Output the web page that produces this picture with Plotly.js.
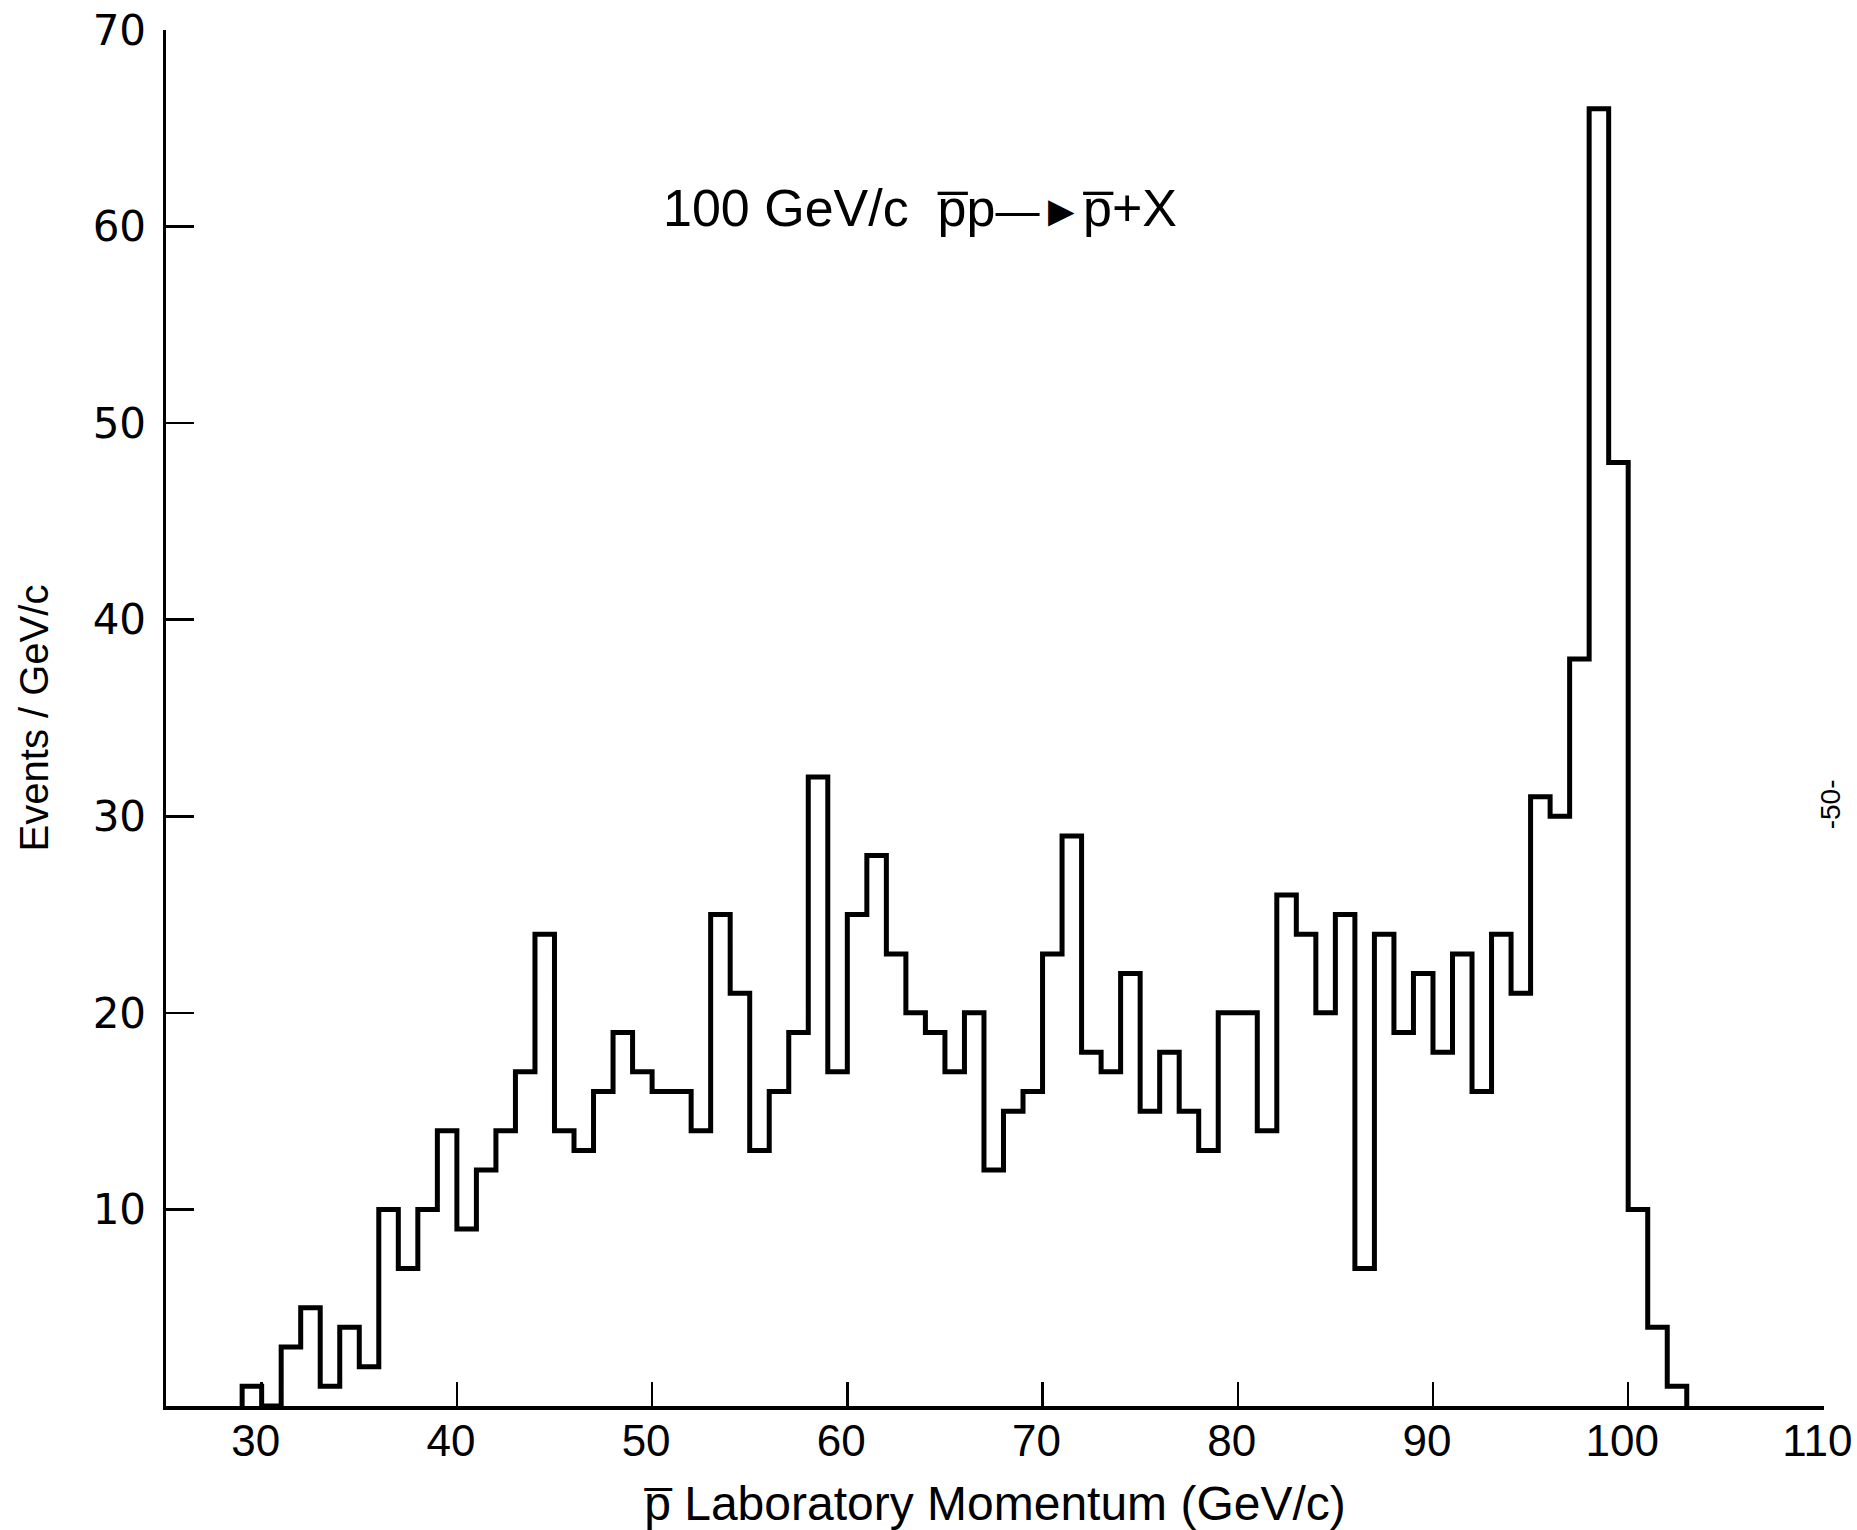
<!DOCTYPE html>
<html>
<head>
<meta charset="utf-8">
<script src="https://cdn.plot.ly/plotly-3.0.1.min.js"></script>
<style>
  html, body { margin: 0; padding: 0; background: #ffffff; }
  #chart { width: 1857px; height: 1530px; }
</style>
</head>
<body>
<div id="chart"></div>
<script>
// ---- Data ----
// Lower edge of each momentum bin (GeV/c); bins are 1 GeV/c wide
const binLowEdges = [29, 30, 31, 32, 33, 34, 35, 36, 37, 38, 39, 40, 41, 42, 43, 44, 45, 46, 47, 48,
  49, 50, 51, 52, 53, 54, 55, 56, 57, 58, 59, 60, 61, 62, 63, 64, 65, 66, 67, 68,
  69, 70, 71, 72, 73, 74, 75, 76, 77, 78, 79, 80, 81, 82, 83, 84, 85, 86, 87, 88,
  89, 90, 91, 92, 93, 94, 95, 96, 97, 98, 99, 100, 101, 102];
const binWidth = 1;
// Events / GeV/c in each bin
const eventCounts = [1, 0, 3, 5, 1, 4, 2, 10, 7, 10, 14, 9, 12, 14, 17, 24, 14, 13, 16, 19,
  17, 16, 16, 14, 25, 21, 13, 16, 19, 32, 17, 25, 28, 23, 20, 19, 17, 20, 12, 15,
  16, 23, 29, 18, 17, 22, 15, 18, 15, 13, 20, 20, 14, 26, 24, 20, 25, 7, 24, 19,
  22, 18, 23, 16, 24, 21, 31, 30, 38, 66, 48, 10, 4, 1];

const xTickValues = [30, 40, 50, 60, 70, 80, 90, 100, 110];
const yTickValues = [10, 20, 30, 40, 50, 60, 70];

const chartTitle = "100 GeV/c  p\u0305p<span style=\"font-size:44px\">\u2014\u25BA</span>p\u0305+X";
const xAxisTitle = "p\u0305 Laboratory Momentum (GeV/c)";
const yAxisTitle = "Events / GeV/c";
const pageNumber = "-50-";

// ---- Build the step outline from the bins ----
const stepX = [binLowEdges[0]];
const stepY = [0];
for (let i = 0; i < binLowEdges.length; i++) {
  stepX.push(binLowEdges[i]);
  stepY.push(eventCounts[i]);
}
stepX.push(binLowEdges[binLowEdges.length - 1] + binWidth);
stepY.push(0);

const trace = {
  type: 'scatter',
  mode: 'lines',
  x: stepX,
  y: stepY,
  line: { shape: 'hv', color: '#000000', width: 5 },
  cliponaxis: false,
  hoverinfo: 'skip',
  showlegend: false
};

const narrow = "'Liberation Sans Narrow', 'Liberation Sans', Arial, sans-serif";

const layout = {
  width: 1857,
  height: 1530,
  paper_bgcolor: '#ffffff',
  plot_bgcolor: '#ffffff',
  margin: { l: 166, r: 33, t: 30, b: 124 },
  showlegend: false,
  xaxis: {
    range: [25.1, 110.03],
    tickvals: xTickValues,
    ticktext: xTickValues.map(String),
    ticks: 'inside',
    ticklen: 24,
    tickwidth: 2.5,
    tickcolor: '#000000',
    showline: true,
    linecolor: '#000000',
    linewidth: 3.5,
    showgrid: false,
    zeroline: false,
    mirror: false,
    tickfont: { family: narrow, size: 44, color: '#000000' },
    ticklabelstandoff: -6,
    ticklabelshift: -6,
    ticklabeloverflow: 'allow',
    title: {
      text: xAxisTitle,
      font: { family: narrow, size: 48, color: '#000000' },
      standoff: 30
    },
    automargin: false
  },
  yaxis: {
    range: [0, 70],
    tickvals: yTickValues,
    ticktext: yTickValues.map(String),
    ticks: 'inside',
    ticklen: 28,
    tickwidth: 2.5,
    tickcolor: '#000000',
    showline: true,
    linecolor: '#000000',
    linewidth: 3.5,
    showgrid: false,
    zeroline: false,
    mirror: false,
    tickfont: { family: "'DejaVu Sans', sans-serif", size: 42, color: '#000000' },
    ticklabelstandoff: 8,
    ticklabeloverflow: 'allow',
    title: {
      text: yAxisTitle,
      font: { family: narrow, size: 40, color: '#000000' },
      standoff: 32
    },
    automargin: false
  },
  annotations: [
    {
      text: chartTitle,
      xref: 'paper', yref: 'paper',
      x: 0.455, y: 0.871,
      xanchor: 'center', yanchor: 'middle',
      showarrow: false,
      font: { family: narrow, size: 52, color: '#000000' }
    },
    {
      text: pageNumber,
      xref: 'paper', yref: 'paper',
      x: 1.004, y: 0.437,
      xanchor: 'center', yanchor: 'middle',
      textangle: -90,
      showarrow: false,
      font: { family: "'Liberation Sans', Arial, sans-serif", size: 28, color: '#000000' }
    }
  ]
};

Plotly.newPlot('chart', [trace], layout, { displayModeBar: false, staticPlot: true });
</script>
</body>
</html>
